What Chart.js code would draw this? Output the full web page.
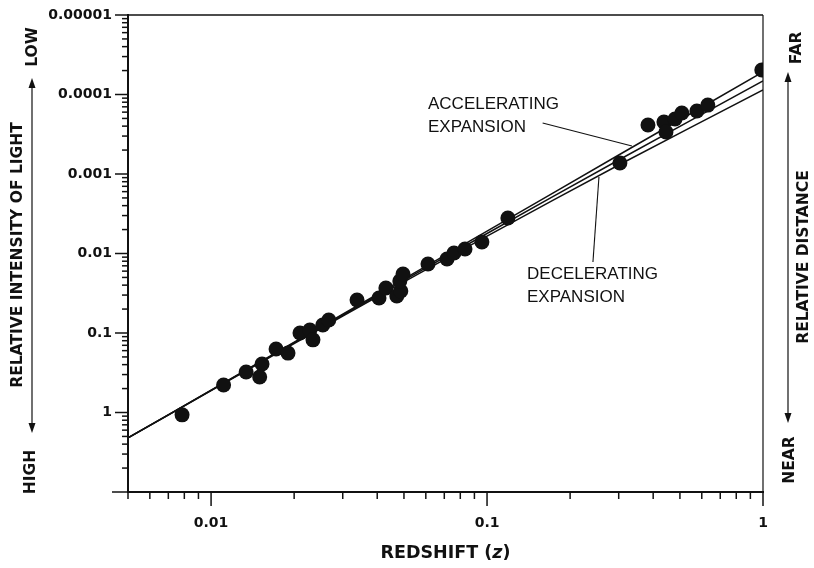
<!DOCTYPE html>
<html>
<head>
<meta charset="utf-8">
<script src="https://cdn.jsdelivr.net/npm/chart.js@4/dist/chart.umd.min.js"></script>
<style>
html,body{margin:0;padding:0;background:#fff;}
#wrap{width:814px;height:568px;}
</style>
</head>
<body>
<div id="wrap"><canvas id="c" width="814" height="568"></canvas></div>
<script>
// ---- supernova data points (redshift z, relative intensity) ----
const pointZ = [0.00785,0.0111,0.0134,0.0153,0.0150,0.0172,0.0190,0.0210,0.0228,0.0234,0.0254,0.0267,
  0.0338,0.0406,0.0430,0.0471,0.0487,0.0483,0.0496,0.0611,0.0716,0.0759,0.0832,0.0958,0.119,
  0.303,0.383,0.4375,0.445,0.480,0.508,0.576,0.631,0.99];
const pointIntensity = [1.07,0.45,0.31,0.245,0.357,0.159,0.179,0.100,0.0916,0.122,0.0792,0.0686,
  0.0385,0.0363,0.0272,0.0343,0.0296,0.0222,0.0181,0.01355,0.01173,0.00986,0.00878,0.00716,0.00357,
  0.000727,0.000242,0.000222,0.000296,0.000203,0.000171,0.000161,0.000136,0.0000492];

// ---- model curves ----
const curveZ = [0.005,0.01,0.03,0.1,0.3,1];
const accelerating = [2.09,0.524,0.0578,0.00522,0.000577,0.0000521];
const middleCurve  = [2.09,0.528,0.0594,0.00560,0.000667,0.0000676];
const decelerating = [2.09,0.531,0.0611,0.00603,0.000771,0.0000878];

// ---- axes ----
const xMajorTicks = [0.01,0.1,1];
const xTickLabels = ['0.01','0.1','1'];
const yMajorTicks = [0.00001,0.0001,0.001,0.01,0.1,1,10];
const yTickLabels = ['0.00001','0.0001','0.001','0.01','0.1','1',''];

// ---- annotations (anchored in data space) ----
const accLabel = {z:0.0611, lines:['ACCELERATING','EXPANSION'], I:[0.0001316,0.000256]};
const accLeader = {from:[0.159,0.000228], to:[0.335,0.000445]};
const decLabel = {z:0.1396, lines:['DECELERATING','EXPANSION'], I:[0.0181,0.0352]};
const decLeader = {from:[0.242,0.0128], to:[0.2544,0.00109]};

const toXY = (xs, ys) => xs.map((x,i)=>({x:x,y:ys[i]}));
const near = (a,b) => Math.abs(Math.log10(a)-Math.log10(b)) < 1e-6;

function xTicksBuild(axis){
  const t=[];
  for (let d=0.001; d<1.5; d*=10){
    for (let k=1;k<10;k++){
      const v=d*k;
      if (v<0.005-1e-9 || v>1+1e-9) continue;
      t.push({value:v, major: xMajorTicks.some(m=>near(m,v))});
    }
  }
  axis.ticks=t;
}
function yTicksBuild(axis){
  const t=[];
  yMajorTicks.forEach((m,i)=>{
    t.push({value:m, major:true});
    if (i<yMajorTicks.length-1){
      for (let k=9;k>=2;k--) t.push({value:m*10/k, major:false});
    }
  });
  axis.ticks=t;
}

const decor = {
  id:'decor',
  afterDraw(chart){
    const ctx=chart.ctx, a=chart.chartArea, xs=chart.scales.x, ys=chart.scales.y;
    ctx.save();
    ctx.strokeStyle='#111'; ctx.fillStyle='#111';
    ctx.lineWidth=1.5;
    ctx.beginPath(); ctx.moveTo(a.left,a.top); ctx.lineTo(a.right,a.top); ctx.stroke();
    ctx.lineWidth=1.2;
    ctx.beginPath(); ctx.moveTo(a.right,a.top); ctx.lineTo(a.right,a.bottom); ctx.stroke();
    ctx.lineWidth=1.5;
    xs.ticks.forEach(t=>{
      const px=xs.getPixelForValue(t.value), len=t.major?14:7;
      ctx.beginPath(); ctx.moveTo(px,a.bottom); ctx.lineTo(px,a.bottom+len); ctx.stroke();
    });
    ys.ticks.forEach(t=>{
      const py=ys.getPixelForValue(t.value), len=t.major?(near(t.value,10)?16:13):6;
      ctx.beginPath(); ctx.moveTo(a.left-len,py); ctx.lineTo(a.left,py); ctx.stroke();
    });
    const side='bold 15.5px "DejaVu Sans"';
    const tb='bold 17.5px "DejaVu Sans"', tbi='italic bold 17.5px "DejaVu Sans"';
    const parts=[['REDSHIFT (',tb],['z',tbi],[')',tb]];
    let w=0; parts.forEach(p=>{ctx.font=p[1]; w+=ctx.measureText(p[0]).width;});
    let cx=(a.left+a.right)/2 - w/2;
    ctx.textBaseline='middle'; ctx.textAlign='left';
    parts.forEach(p=>{ctx.font=p[1]; ctx.fillText(p[0],cx,553); cx+=ctx.measureText(p[0]).width;});
    function vtext(txt,x,y,font){
      ctx.save(); ctx.translate(x,y); ctx.rotate(-Math.PI/2);
      ctx.font=font; ctx.textAlign='center'; ctx.textBaseline='middle';
      ctx.fillText(txt,0,0); ctx.restore();
    }
    function arrow(x,y1,y2){
      ctx.lineWidth=1.2;
      ctx.beginPath(); ctx.moveTo(x,y1+6); ctx.lineTo(x,y2-6); ctx.stroke();
      ctx.beginPath(); ctx.moveTo(x,y1); ctx.lineTo(x-3.5,y1+10); ctx.lineTo(x+3.5,y1+10); ctx.closePath(); ctx.fill();
      ctx.beginPath(); ctx.moveTo(x,y2); ctx.lineTo(x-3.5,y2-10); ctx.lineTo(x+3.5,y2-10); ctx.closePath(); ctx.fill();
    }
    vtext('LOW',33,47,side);
    vtext('RELATIVE INTENSITY OF LIGHT',18,255,side);
    vtext('HIGH',31,472,side);
    arrow(32,78,433);
    vtext('FAR',797,48,side);
    vtext('RELATIVE DISTANCE',804,257,side);
    vtext('NEAR',790,460,side);
    arrow(788,72,423);
    ctx.font='17px "Liberation Sans"'; ctx.textAlign='left'; ctx.textBaseline='middle';
    [accLabel,decLabel].forEach(L=>{
      const px=xs.getPixelForValue(L.z);
      L.lines.forEach((s,i)=>ctx.fillText(s,px,ys.getPixelForValue(L.I[i])));
    });
    ctx.lineWidth=1.1;
    [accLeader,decLeader].forEach(Ld=>{
      ctx.beginPath();
      ctx.moveTo(xs.getPixelForValue(Ld.from[0]),ys.getPixelForValue(Ld.from[1]));
      ctx.lineTo(xs.getPixelForValue(Ld.to[0]),ys.getPixelForValue(Ld.to[1]));
      ctx.stroke();
    });
    ctx.restore();
  }
};

const lineStyle = {showLine:true, pointRadius:0, borderColor:'#111', borderWidth:1.5, tension:0.3, fill:false};
new Chart(document.getElementById('c'), {
  type:'scatter',
  data:{datasets:[
    {data:toXY(pointZ,pointIntensity), pointRadius:7.5, pointBackgroundColor:'#111', pointBorderColor:'#111', pointBorderWidth:0, showLine:false},
    Object.assign({data:toXY(curveZ,accelerating)}, lineStyle),
    Object.assign({data:toXY(curveZ,middleCurve)}, lineStyle),
    Object.assign({data:toXY(curveZ,decelerating)}, lineStyle)
  ]},
  options:{
    responsive:false, animation:false, devicePixelRatio:1,
    layout:{padding:{top:15,right:51,left:0,bottom:0}},
    plugins:{legend:{display:false}, tooltip:{enabled:false}},
    scales:{
      x:{type:'logarithmic', min:0.005, max:1, position:'bottom',
        afterBuildTicks:xTicksBuild,
        afterFit:(s)=>{s.height=76; s.paddingLeft=0; s.paddingRight=0;},
        grid:{display:false, drawTicks:false},
        border:{display:true, color:'#111', width:2},
        ticks:{autoSkip:false, maxRotation:0, padding:23, color:'#111',
          font:{family:'DejaVu Sans', weight:'bold', size:14},
          callback:(v)=>{const i=xMajorTicks.findIndex(m=>near(m,v)); return i>=0?xTickLabels[i]:'';}}
      },
      y:{type:'logarithmic', min:0.00001, max:10, reverse:true,
        afterBuildTicks:yTicksBuild,
        afterFit:(s)=>{s.width=128; s.paddingTop=0; s.paddingBottom=0;},
        grid:{display:false, drawTicks:false},
        border:{display:true, color:'#111', width:2},
        ticks:{autoSkip:false, padding:16, color:'#111',
          font:{family:'DejaVu Sans', weight:'bold', size:14},
          callback:(v)=>{const i=yMajorTicks.findIndex(m=>near(m,v)); return i>=0?yTickLabels[i]:'';}}
      }
    }
  },
  plugins:[decor]
});
</script>
</body>
</html>
